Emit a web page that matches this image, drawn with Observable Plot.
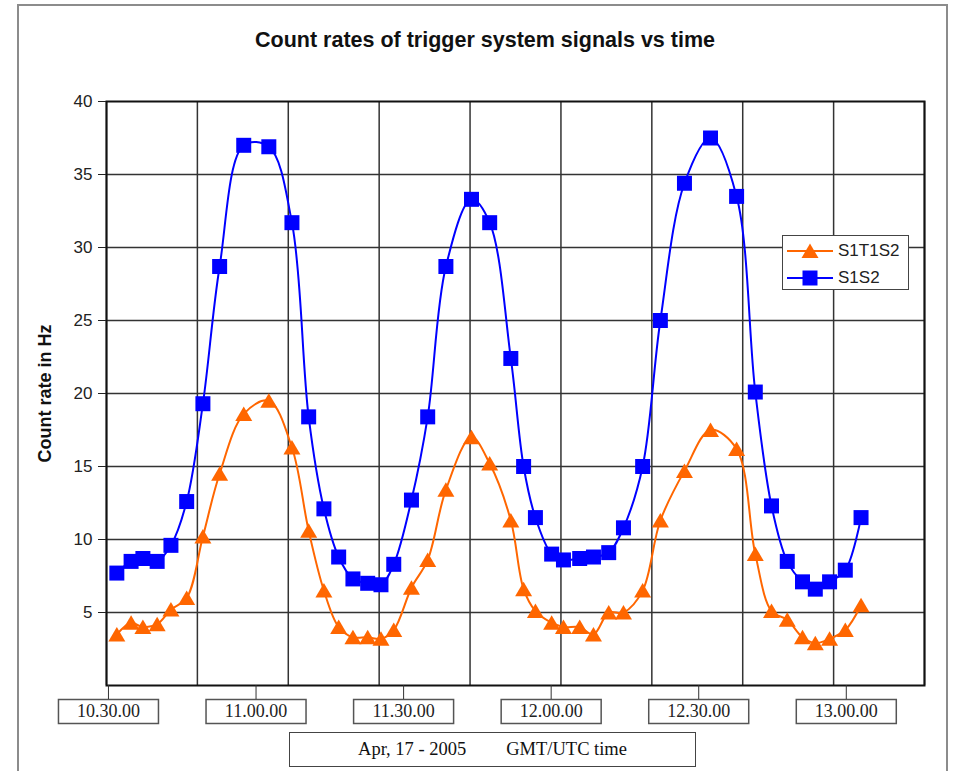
<!DOCTYPE html>
<html><head><meta charset="utf-8">
<script src="https://cdn.jsdelivr.net/npm/d3@7"></script>
<script src="https://cdn.jsdelivr.net/npm/@observablehq/plot@0.6"></script>
<style>
body{margin:0;background:#fff;}
#wrap{position:relative;width:953px;height:771px;overflow:hidden;background:#fff;font-family:"Liberation Sans",Arial,sans-serif;color:#111;}
#outer{position:absolute;left:17px;top:4px;width:931px;height:820px;border:2px solid #8c8c8c;box-sizing:border-box;}
#title{position:absolute;left:0;width:970px;top:28px;text-align:center;font-weight:bold;font-size:21.5px;line-height:24px;}
#chart{position:absolute;left:0;top:0;}
#legend{position:absolute;left:782px;top:235px;width:127px;height:55px;background:#fff;border:1.5px solid #444;box-sizing:border-box;font-size:17px;color:#222;}
#legend .row{position:absolute;left:4px;height:20px;display:flex;align-items:center;}
#legend svg{display:block;}
#legend span{margin-left:5px;}
#caption{position:absolute;left:289px;top:732px;width:407px;height:35px;border:1.5px solid #444;box-sizing:border-box;background:#fff;font-family:"Liberation Serif","Times New Roman",serif;font-size:18.5px;display:flex;align-items:center;justify-content:center;white-space:pre;}
#caption span + span{margin-left:40px;}
</style>
</head><body>
<div id="wrap">
  <div id="outer"></div>
  <div id="chart"></div>
  <div id="title">Count rates of trigger system signals vs time</div>
  <div id="legend"></div>
  <div id="caption"></div>
</div>
<script>
// ---- data ----
const seriesNames = ["S1T1S2", "S1S2"];
const seriesColors = ["#FF6600", "#0000FF"];
// sample times, minutes after 10:30:00 (Apr 17, 2005, GMT/UTC)
const minutesAfter1030 = [1.7, 4.6, 7.0, 9.9, 12.7, 15.9, 19.2, 22.6, 27.5, 32.6, 37.3, 40.7, 43.8, 46.8, 49.7, 52.7, 55.4, 58.0,
  61.6, 64.9, 68.6, 73.8, 77.5, 81.8, 84.4, 86.8, 90.1, 92.5, 95.8, 98.6, 101.7, 104.7, 108.6, 112.2, 117.1, 122.4, 127.7,
  131.5, 134.8, 138.0, 141.1, 143.7, 146.6, 149.8, 153.0];
const s1t1s2 = [3.5, 4.3, 4.0, 4.2, 5.2, 6.0, 10.2, 14.5, 18.6, 19.5, 16.3, 10.6, 6.5, 4.0, 3.3, 3.3, 3.2, 3.8,
  6.7, 8.6, 13.4, 17.0, 15.2, 11.3, 6.6, 5.1, 4.3, 4.0, 4.0, 3.5, 5.0, 5.0, 6.5, 11.3, 14.7, 17.5, 16.2,
  9.0, 5.1, 4.5, 3.3, 2.9, 3.2, 3.8, 5.5];
const s1s2 = [7.7, 8.5, 8.7, 8.5, 9.6, 12.6, 19.3, 28.7, 37.0, 36.9, 31.7, 18.4, 12.1, 8.8, 7.3, 7.0, 6.9, 8.3,
  12.7, 18.4, 28.7, 33.3, 31.7, 22.4, 15.0, 11.5, 9.0, 8.6, 8.7, 8.8, 9.1, 10.8, 15.0, 25.0, 34.4, 37.5, 33.5,
  20.1, 12.3, 8.5, 7.1, 6.6, 7.1, 7.9, 11.5];
const yTickValues = [5, 10, 15, 20, 25, 30, 35, 40];
const timeTickValues = [0, 30, 60, 90, 120, 150];
const timeTickLabels = ["10.30.00", "11.00.00", "11.30.00", "12.00.00", "12.30.00", "13.00.00"];
const xDomain = [-0.4, 165.9];
const yDomain = [0, 40];
const gridDivisions = 9;
const captionParts = ["Apr, 17 - 2005", "GMT/UTC time"];
const yLabel = "Count rate in Hz";

// ---- build ----
const rowsA = minutesAfter1030.map((t, i) => ({t, v: s1t1s2[i]}));
const rowsB = minutesAfter1030.map((t, i) => ({t, v: s1s2[i]}));
const gridXValues = d3.range(gridDivisions + 1).map(i => xDomain[0] + i * (xDomain[1] - xDomain[0]) / gridDivisions);
const labelMap = new Map(timeTickValues.map((v, i) => [v, timeTickLabels[i]]));

const boxSymbol = {draw(ctx) { ctx.rect(-50, -12, 100, 24); }};
const triSymbol = {draw(ctx) { ctx.moveTo(0, -7.5); ctx.lineTo(8.5, 7); ctx.lineTo(-8.5, 7); ctx.closePath(); }};
const sqSymbol = {draw(ctx) { ctx.rect(-7.5, -7.5, 15, 15); }};

const chart = Plot.plot({
  width: 953, height: 771,
  marginTop: 101, marginLeft: 106, marginRight: 29, marginBottom: 86,
  x: {domain: xDomain},
  y: {domain: yDomain},
  style: {fontFamily: "'Liberation Sans', Arial, sans-serif", fontSize: "17px", color: "#222", background: "transparent"},
  marks: [
    Plot.gridX(gridXValues, {stroke: "#333", strokeOpacity: 1, strokeWidth: 1.5}),
    Plot.gridY(yTickValues.filter(d => d < 40), {stroke: "#333", strokeOpacity: 1, strokeWidth: 1.5}),
    Plot.frame({stroke: "#111", strokeWidth: 2}),
    Plot.axisY(yTickValues, {tickSize: 8, tickPadding: 6, fontSize: 17, label: null, stroke: "#222"}),
    Plot.text([yLabel], {frameAnchor: "left", textAnchor: "middle", dx: -61, rotate: -90, fontWeight: "bold", fontSize: 18, fill: "#111"}),
    Plot.dot(timeTickValues, {x: d => d, frameAnchor: "bottom", dy: 26, symbol: boxSymbol, fill: "white", stroke: "#555", strokeWidth: 1.5}),
    Plot.axisX(timeTickValues, {tickSize: 14, tickPadding: 5, tickFormat: d => labelMap.get(d), fontFamily: "'Liberation Serif', 'Times New Roman', serif", fontSize: 18, label: null, stroke: "#333"}),
    Plot.line(rowsA, {x: "t", y: "v", stroke: seriesColors[0], strokeWidth: 2, curve: "catmull-rom"}),
    Plot.line(rowsB, {x: "t", y: "v", stroke: seriesColors[1], strokeWidth: 2, curve: "catmull-rom"}),
    Plot.dot(rowsA, {x: "t", y: "v", symbol: triSymbol, fill: seriesColors[0], stroke: "none"}),
    Plot.dot(rowsB, {x: "t", y: "v", symbol: sqSymbol, fill: seriesColors[1], stroke: "none"})
  ]
});
document.getElementById("chart").appendChild(chart);

// legend
const legend = document.getElementById("legend");
const markerPaths = ["M23,2.5L31.5,17L14.5,17Z", "M15.5,2.5h15v15h-15Z"];
seriesNames.forEach((name, i) => {
  const row = document.createElement("div");
  row.className = "row";
  row.style.top = (5 + i * 27) + "px";
  row.innerHTML = `<svg width="46" height="20"><line x1="0" x2="46" y1="10" y2="10" stroke="${seriesColors[i]}" stroke-width="2"/><path d="${markerPaths[i]}" fill="${seriesColors[i]}"/></svg><span>${name}</span>`;
  legend.appendChild(row);
});
const caption = document.getElementById("caption");
captionParts.forEach(p => { const s = document.createElement("span"); s.textContent = p; caption.appendChild(s); });
</script>
</body></html>
